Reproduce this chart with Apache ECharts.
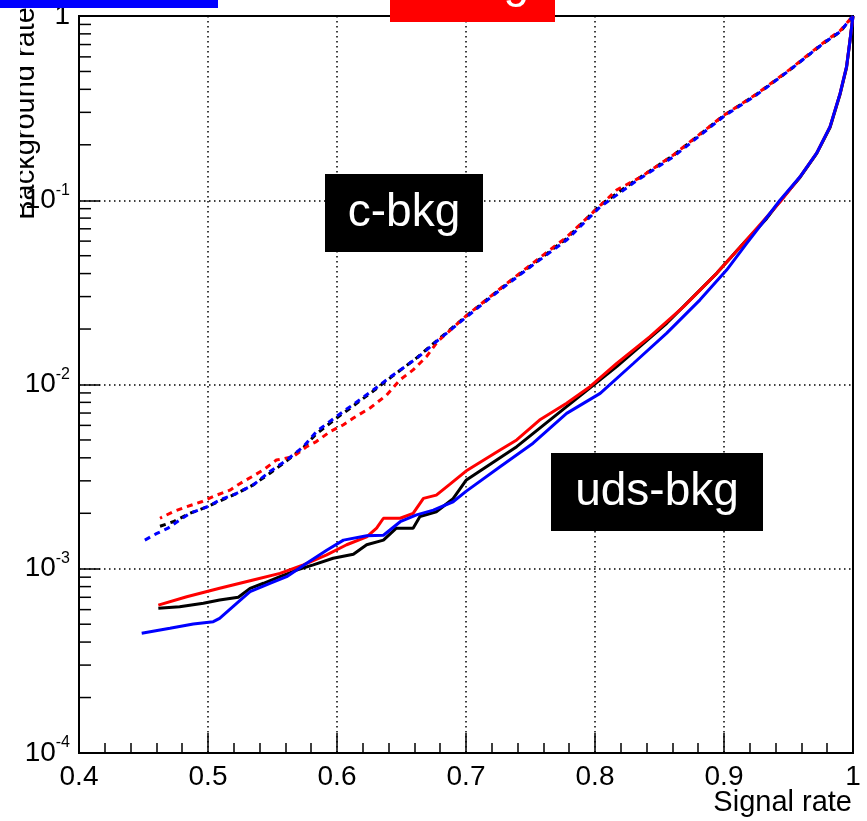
<!DOCTYPE html>
<html>
<head>
<meta charset="utf-8">
<script src="https://cdn.jsdelivr.net/npm/echarts@6/dist/echarts.min.js"></script>
<style>
html, body { margin: 0; padding: 0; background: #fff; }
#main { width: 867px; height: 821px; }
</style>
</head>
<body>
<div id="main"></div>
<script>
// c-bkg curves: [signal rate, background rate]
var cBlack = [[0.4628,1.70e-3],[0.473,1.80e-3],[0.486,2.00e-3],[0.4995,2.17e-3],[0.522,2.56e-3],[0.535,2.85e-3],
  [0.548,3.30e-3],[0.561,3.85e-3],[0.574,4.55e-3],[0.584,5.40e-3],[0.600,6.60e-3],[0.612,7.60e-3],[0.628,9.20e-3],
  [0.643,1.11e-2],[0.662,1.40e-2],[0.677,1.72e-2],[0.7005,2.36e-2],[0.7264,3.30e-2],[0.752,4.50e-2],[0.778,6.20e-2],
  [0.804,9.40e-2],[0.8297,0.126],[0.8607,0.175],[0.8995,0.287],[0.925,0.375],[0.951,0.51],[0.977,0.71],[0.99,0.82],[1.0,1.0]];
var cRed = [[0.4628,1.88e-3],[0.473,2.04e-3],[0.4835,2.17e-3],[0.495,2.31e-3],[0.5067,2.51e-3],[0.517,2.67e-3],
  [0.523,2.85e-3],[0.534,3.16e-3],[0.543,3.44e-3],[0.553,3.89e-3],[0.566,4.06e-3],[0.5765,4.60e-3],[0.584,4.90e-3],
  [0.5946,5.55e-3],[0.6047,6.03e-3],[0.6127,6.58e-3],[0.6256,7.45e-3],[0.6385,8.77e-3],[0.6488,1.06e-2],[0.659,1.20e-2],
  [0.6695,1.42e-2],[0.678,1.71e-2],[0.7005,2.37e-2],[0.7264,3.31e-2],[0.752,4.57e-2],[0.778,6.31e-2],[0.817,0.114],
  [0.835,0.133],[0.8607,0.176],[0.8995,0.288],[0.925,0.376],[0.951,0.513],[0.977,0.716],[0.99,0.832],[1.0,1.0]];
var cBlue = [[0.4486,1.40e-3],[0.460,1.55e-3],[0.469,1.66e-3],[0.478,1.84e-3],[0.486,2.00e-3],[0.4995,2.17e-3],
  [0.509,2.36e-3],[0.522,2.56e-3],[0.535,2.85e-3],[0.548,3.37e-3],[0.561,3.89e-3],[0.574,4.60e-3],[0.584,5.55e-3],
  [0.600,6.75e-3],[0.612,7.74e-3],[0.628,9.33e-3],[0.643,1.12e-2],[0.662,1.39e-2],[0.677,1.71e-2],[0.7005,2.33e-2],
  [0.7264,3.26e-2],[0.752,4.46e-2],[0.778,6.08e-2],[0.804,9.20e-2],[0.8297,0.124],[0.8607,0.172],[0.8995,0.284],
  [0.925,0.372],[0.951,0.509],[0.977,0.711],[0.99,0.822],[1.0,1.0]];

// uds-bkg curves
var udsBlack = [[0.4615,6.10e-4],[0.478,6.22e-4],[0.4964,6.49e-4],[0.509,6.76e-4],[0.5235,7.00e-4],[0.5326,7.83e-4],
  [0.543,8.34e-4],[0.5558,9.06e-4],[0.5687,9.84e-4],[0.5816,1.05e-3],[0.597,1.14e-3],[0.6127,1.20e-3],[0.623,1.35e-3],
  [0.636,1.43e-3],[0.646,1.66e-3],[0.659,1.66e-3],[0.6643,1.92e-3],[0.677,2.04e-3],[0.690,2.40e-3],[0.700,3.02e-3],
  [0.7393,4.60e-3],[0.778,7.59e-3],[0.8168,1.25e-2],[0.8556,2.15e-2],[0.8943,4.01e-2],[0.915,5.83e-2],[0.933,7.94e-2],
  [0.9434,9.89e-2],[0.9589,0.133],[0.9718,0.179],[0.9822,0.248],[0.990,0.376],[0.995,0.525],[0.9977,0.736],[1.0,1.0]];
var udsRed = [[0.4615,6.35e-4],[0.4835,7.05e-4],[0.509,7.83e-4],[0.535,8.69e-4],[0.5558,9.44e-4],[0.5739,1.05e-3],
  [0.592,1.19e-3],[0.6075,1.35e-3],[0.623,1.49e-3],[0.6307,1.66e-3],[0.636,1.88e-3],[0.649,1.88e-3],[0.659,2.00e-3],
  [0.667,2.41e-3],[0.677,2.51e-3],[0.6876,2.88e-3],[0.700,3.39e-3],[0.7264,4.41e-3],[0.7393,5.00e-3],[0.757,6.41e-3],
  [0.778,7.91e-3],[0.7961,9.73e-3],[0.8168,1.30e-2],[0.8426,1.82e-2],[0.8685,2.64e-2],[0.8943,4.01e-2],[0.915,5.83e-2],
  [0.9434,9.77e-2],[0.9589,0.134],[0.9718,0.180],[0.9822,0.251],[0.990,0.380],[0.995,0.531],[0.9977,0.741],[1.0,1.0]];
var udsBlue = [[0.4486,4.47e-4],[0.4705,4.75e-4],[0.4886,5.01e-4],[0.5041,5.16e-4],[0.509,5.38e-4],[0.5222,6.49e-4],
  [0.5326,7.52e-4],[0.548,8.34e-4],[0.561,9.06e-4],[0.5765,1.07e-3],[0.592,1.26e-3],[0.605,1.43e-3],[0.623,1.51e-3],
  [0.636,1.52e-3],[0.649,1.80e-3],[0.6617,1.96e-3],[0.6747,2.08e-3],[0.690,2.31e-3],[0.700,2.63e-3],[0.7264,3.58e-3],
  [0.752,4.80e-3],[0.778,6.97e-3],[0.804,8.95e-3],[0.8297,1.30e-2],[0.8556,1.90e-2],[0.8814,2.88e-2],[0.902,4.18e-2],
  [0.9176,5.83e-2],[0.9434,0.100],[0.9589,0.134],[0.9718,0.180],[0.9822,0.251],[0.990,0.380],[0.995,0.531],[0.9977,0.741],[1.0,1.0]];

// minor ticks of the log axis (2..9 per decade)
var yMinorTicks = [];
[1e-4, 1e-3, 1e-2, 1e-1].forEach(function (d) {
  for (var k = 2; k <= 9; k++) yMinorTicks.push(k * d);
});

var FONT = 'Liberation Sans';
var dotted = { color: '#000', width: 1.5, type: [1.5, 3.5] };

function curve(data, color, dashOffset) {
  var dashed = dashOffset !== undefined;
  return {
    type: 'line',
    data: data,
    showSymbol: false,
    animation: false,
    lineStyle: { color: color, width: 3, type: dashed ? [6, 5] : 'solid', dashOffset: dashed ? dashOffset : 0 }
  };
}

var myChart = echarts.init(document.getElementById('main'));
myChart.setOption({
  backgroundColor: '#fff',
  animation: false,
  grid: { left: 79, right: 14, top: 16, bottom: 68, show: true, borderColor: '#000', borderWidth: 2 },
  xAxis: {
    type: 'value', min: 0.4, max: 1, interval: 0.1,
    axisLine: { lineStyle: { color: '#000', width: 2 } },
    axisTick: { inside: true, length: 20, lineStyle: { color: '#000', width: 1.5 } },
    minorTick: { show: true, splitNumber: 5, length: 10, lineStyle: { color: '#000', width: 1.5 } },
    splitLine: { show: true, lineStyle: dotted },
    axisLabel: { color: '#000', fontSize: 28, fontFamily: FONT, margin: 10 }
  },
  yAxis: {
    type: 'log', logBase: 10, min: 1e-4, max: 1,
    axisLine: { lineStyle: { color: '#000', width: 2 } },
    axisTick: { inside: true, length: 21, lineStyle: { color: '#000', width: 1.5 } },
    splitLine: { show: true, lineStyle: dotted },
    axisLabel: {
      margin: 9,
      formatter: function (v) {
        if (Math.abs(v - 1) < 1e-9) return '{b|1}';
        return '{b|10}{s|' + Math.round(Math.log10(v)) + '}';
      },
      rich: {
        b: { color: '#000', fontSize: 28, fontFamily: FONT, lineHeight: 36 },
        s: { color: '#000', fontSize: 16, fontFamily: FONT, lineHeight: 16, verticalAlign: 'top' }
      }
    }
  },
  series: [
    {
      type: 'custom',
      silent: true,
      clip: false,
      data: yMinorTicks.map(function (v) { return [0.4, v]; }),
      renderItem: function (params, api) {
        var p = api.coord([api.value(0), api.value(1)]);
        return {
          type: 'line',
          shape: { x1: p[0], y1: p[1], x2: p[0] + 12, y2: p[1] },
          style: { stroke: '#000', lineWidth: 1.5 }
        };
      }
    },
    curve(cBlack, '#000000', 0),
    curve(cRed, '#ff0000', 3.7),
    curve(cBlue, '#0000ff', 7.4),
    curve(udsBlack, '#000000'),
    curve(udsRed, '#ff0000'),
    curve(udsBlue, '#0000ff')
  ],
  graphic: [
    { type: 'text', x: 40, y: 7, rotation: Math.PI / 2, z: 10,
      style: { text: 'Background rate', font: '29px ' + FONT, fill: '#000', align: 'right', verticalAlign: 'bottom' } },
    { type: 'rect', shape: { x: 0, y: 0, width: 20, height: 240 }, style: { fill: '#fff' }, z: 11 },
    { type: 'text', x: 852, y: 803, z: 10,
      style: { text: 'Signal rate', font: '29px ' + FONT, fill: '#000', align: 'right', verticalAlign: 'middle' } },
    { type: 'rect', shape: { x: 0, y: 0, width: 218, height: 8 }, style: { fill: '#0000ff' }, z: 12 },
    { type: 'rect', shape: { x: 390, y: 0, width: 165, height: 22 }, style: { fill: '#ff0000' }, z: 12 },
    { type: 'text', x: 529, y: 7, z: 13,
      style: { text: 'b-tag', font: '46px ' + FONT, fill: '#fff', align: 'right', verticalAlign: 'bottom' } },
    { type: 'rect', shape: { x: 325, y: 174, width: 158, height: 78 }, style: { fill: '#000' }, z: 12 },
    { type: 'text', x: 404, y: 213, z: 13,
      style: { text: 'c-bkg', font: '46px ' + FONT, fill: '#fff', align: 'center', verticalAlign: 'middle' } },
    { type: 'rect', shape: { x: 551, y: 453, width: 212, height: 78 }, style: { fill: '#000' }, z: 12 },
    { type: 'text', x: 657, y: 492, z: 13,
      style: { text: 'uds-bkg', font: '46px ' + FONT, fill: '#fff', align: 'center', verticalAlign: 'middle' } }
  ]
});
</script>
</body>
</html>
